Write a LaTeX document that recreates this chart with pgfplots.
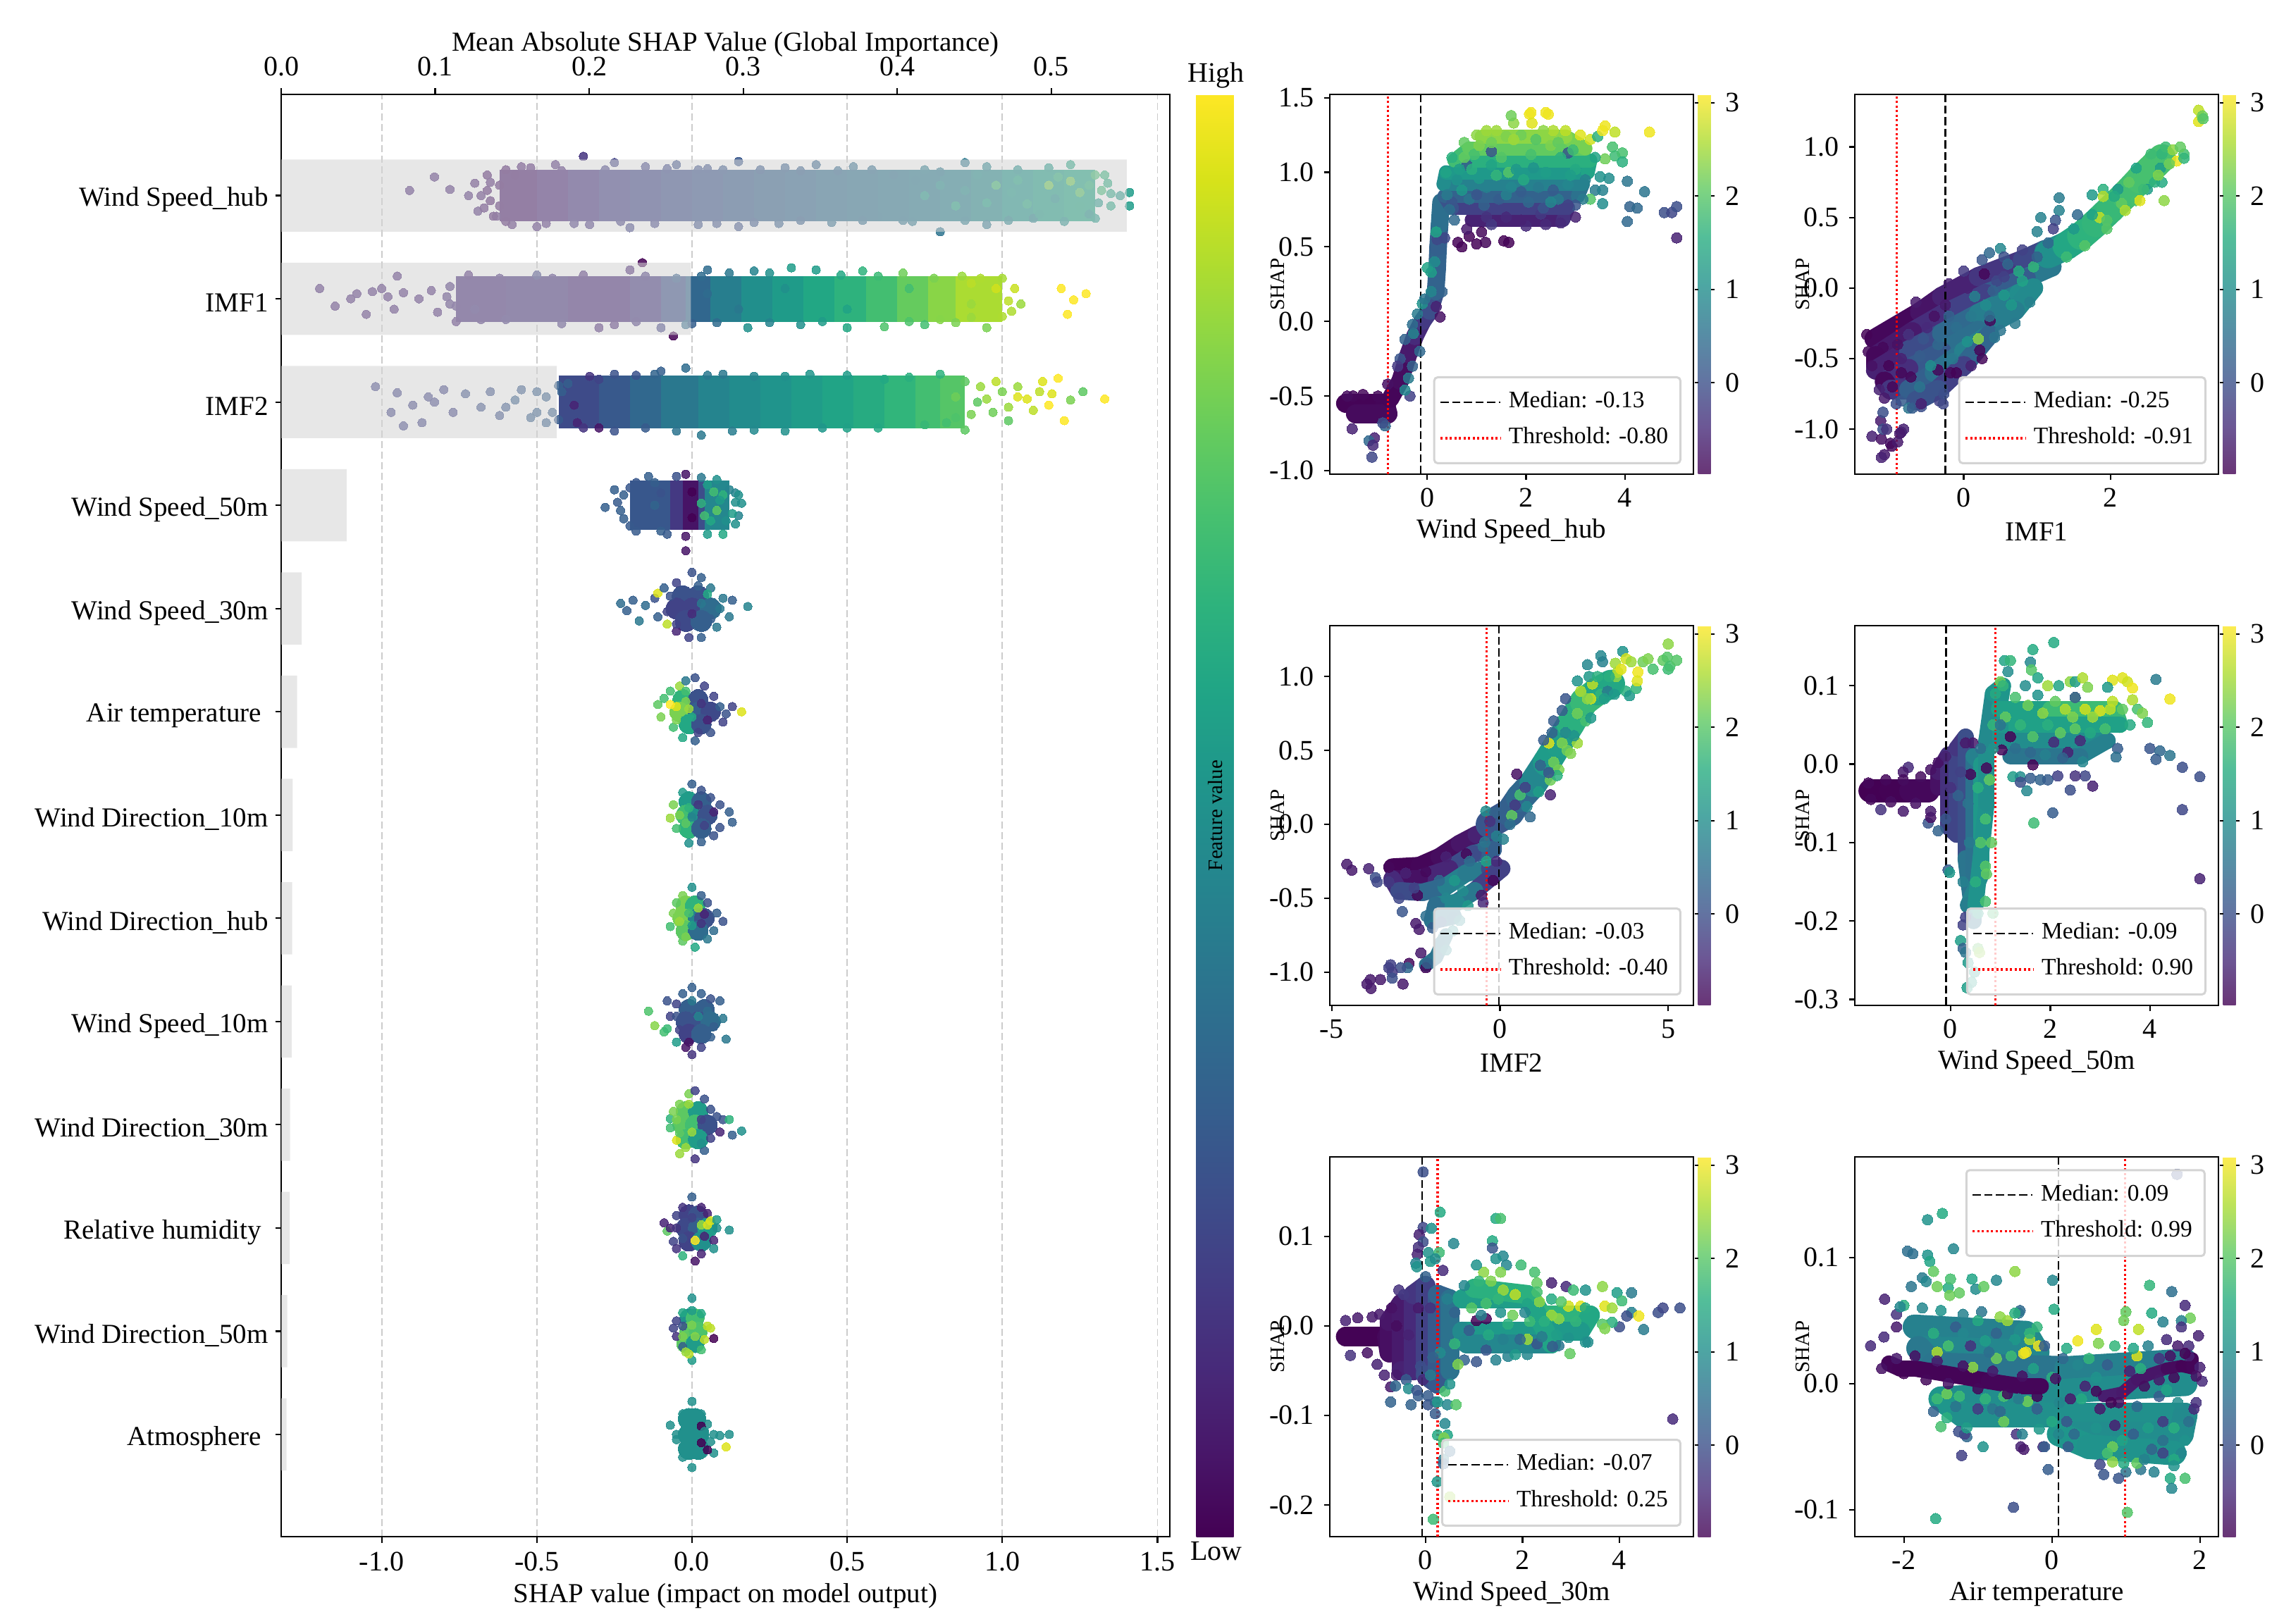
\documentclass[border=0pt]{standalone}
\usepackage{fontspec}
\setmainfont{Liberation Serif}
\usepackage{pgfplots}
\pgfplotsset{compat=1.18}
\newcommand{\fs}[1]{\fontsize{#1}{#1}\selectfont}
\pgfplotsset{
  colormap={viralpha}{rgb255=(105,52,118) rgb255=(108,87,149) rgb255=(98,117,162) rgb255=(86,142,165) rgb255=(77,167,163) rgb255=(83,190,153) rgb255=(126,212,129) rgb255=(189,227,89) rgb255=(253,236,81)},
  base/.style={scale only axis, /pgf/number format/assume math mode=true,
    tick align=outside, major tick length=1.7pt, tick style={black,line width=.45pt},
    axis line style={line width=.5pt}, ticklabel style={font=\fs{8}},
    label style={font=\fs{7.8}}},
  dots/.style={scatter, only marks, point meta=explicit, mark=*, mark size=#1,
    scatter/use mapped color={draw=mapped color,fill=mapped color},
    mark options={opacity=.85,line width=0pt}, forget plot},
  dots/.default=1.5pt,
  core/.style={dots=#1, mark options={opacity=1,line width=0pt}},
  band/.style={mesh, point meta=explicit, line width=#1, line cap=round, line join=round, forget plot},
  panel/.style={base, width=103.2pt, height=107.8pt, colormap/viridis,
    point meta min=-.98, point meta max=3.09, ytick pos=left, xtick pos=bottom,
    xticklabel style={yshift=1.2pt}, yticklabel style={xshift=.8pt},
    ylabel=SHAP, y label style={at={(axis description cs:-.143,.5)},anchor=center,font=\fs{5.8}},
    x label style={at={(axis description cs:.5,-.151)},anchor=center},
    legend cell align=left,
    legend image code/.code={\draw[##1] (0,0)--(14.5pt,0);\path (0,0)--(17pt,0);},
    legend style={font=\fs{6.7}, draw=black!17, line width=.6pt, rounded corners=1pt,
      fill=white, fill opacity=.8, text opacity=1, draw opacity=1,
      at={(.967,.026)}, anchor=south east, inner xsep=1.5pt, inner ysep=2pt,
      row sep=.1pt, /tikz/every even column/.append style={column sep=0pt}},
    colorbar, colorbar style={colormap name=viralpha, at={(parent axis.north east)},
      anchor=north west, xshift=-7.2pt, width=3.6pt, height=107.8pt,
      ytick={0,1,2,3}, axis line style={draw=none}, major tick length=1pt,
      tick style={black,line width=.4pt}, tick align=outside,
      yticklabel style={font=\fs{8},xshift=-.4pt},
      /pgf/number format/assume math mode=true}},
  medline/.style={black, dash pattern=on 2.3pt off 1pt, line width=.5pt},
  thrline/.style={red, dash pattern=on .6pt off .7pt, line width=.65pt}
}
\begin{document}
\begin{tikzpicture}
\path[use as bounding box] (0,0) rectangle (644.8pt,460.8pt);
% beeswarm on the SHAP axis
\begin{axis}[base, at={(79.8pt,24.6pt)}, anchor=south west, width=252.2pt, height=409.4pt,
  xmin=-1.324, xmax=1.54, ymin=-.99, ymax=12.98, colormap/viridis,
  point meta min=0, point meta max=1,
  xtick={-1,-.5,0,.5,1,1.5}, xticklabels={-1.0,-0.5,0.0,0.5,1.0,1.5},
  xmajorgrids, grid style={dash pattern=on 2pt off 1pt, black!20, line width=.35pt},
  xtick pos=bottom, ytick pos=left, ytick={0,...,12},
  yticklabels={Atmosphere\kern2pt,Wind Direction\_50m,Relative humidity\kern2pt,Wind Direction\_30m,Wind Speed\_10m,Wind Direction\_hub,Wind Direction\_10m,Air temperature\kern2pt,Wind Speed\_30m,Wind Speed\_50m,IMF2,IMF1,Wind Speed\_hub},
  yticklabel style={font=\fs{7.8},xshift=1.6pt,yshift=-1.2pt},
  xticklabel style={yshift=.8pt},
  xlabel={SHAP value (impact on model output)},
  x label style={at={(axis description cs:.5,-.041)},anchor=center},
  colorbar, colorbar style={at={(parent axis.north east)}, anchor=north west, xshift=-1pt,
    width=10.6pt, height=409.4pt, ytick=\empty, axis line style={draw=none},
    extra description/.code={
      \node[rotate=90,font=\fs{5.8}] at (rel axis cs:.5,.5) {Feature value};
      \node[font=\fs{8}] at (rel axis cs:.53,1.0132) {High};
      \node[font=\fs{8}] at (rel axis cs:.53,-.0103) {Low};}}]
% hub
\addplot[band=14.5pt, line cap=butt] coordinates {(-.62,12)[.05](-.5,12)[.08](-.4,12)[.12](-.3,12)[.16](-.2,12)[.2](-.1,12)[.22](0,12)[.25](.1,12)[.27](.2,12)[.3](.3,12)[.32](.4,12)[.34](.5,12)[.36](.6,12)[.38](.7,12)[.4](.8,12)[.42](.9,12)[.45](1,12)[.5](1.1,12)[.55](1.2,12)[.58](1.3,12)[.6]};
\addplot[dots=1.2pt] coordinates {(-.91,12.05)[.1](-.83,12.18)[.1](-.78,12.06)[.1](-.72,12.0)[.1](-.7,12.12)[.08](-.69,11.85)[.1](-.66,12.2)[.05](-.65,11.95)[.05](-.63,11.8)[.08](-.6,12.25)[.05](-.58,11.72)[.08](-.55,12.28)[.07](-.5,11.7)[.1](-.44,12.3)[.1](-.35,12.38)[.15](-.25,12.32)[.2](-.15,12.28)[.2](-.05,12.3)[.25](.05,12.26)[.25](.15,12.33)[.27](.3,12.27)[.3](.4,12.3)[.32](.52,12.28)[.35](.15,11.7)[.25](.02,11.72)[.25](-.2,11.69)[.2](-.38,11.73)[.15](.28,11.73)[.3](.45,11.74)[.35](.6,11.8)[.38](.72,12.15)[.4](.75,12.25)[.42](.88,12.32)[.4](.95,12.28)[.45](1.05,12.25)[.5](1.15,12.27)[.55](1.22,12.3)[.6](1.3,12.2)[.7](1.32,12.05)[.68](1.35,11.9)[.6](1.38,12.0)[.55](1.41,12.03)[.55](1.41,11.9)[.55](1.28,11.82)[.5](1.2,11.75)[.5](1.1,11.78)[.45](.95,11.72)[.4](.8,11.65)[.38](.71,11.75)[.4](.98,12.1)[.7](1.15,12.1)[.8](1.25,12.03)[.75](.85,11.9)[.6]
(-.62,12.1)[.05](-.62,11.9)[.06](-.6,11.75)[.06](-.57,12.2)[.06](-.52,12.27)[.07](-.47,11.73)[.1](-.42,12.24)[.1](-.33,11.72)[.15](-.28,12.25)[.18](-.23,11.75)[.18](-.12,11.73)[.2](-.08,12.26)[.22](.08,11.73)[.25](.02,12.25)[.25](.1,12.25)[.27](.2,11.74)[.27](.22,12.25)[.28](.35,11.76)[.3](.35,12.24)[.3](.47,12.24)[.33](.55,11.76)[.35](.58,12.25)[.35](.65,12.2)[.37](.68,11.76)[.38](.8,12.23)[.4](.88,11.76)[.42](.92,12.2)[.5](1.02,11.76)[.45](1.05,12.15)[.6](1.12,11.82)[.55](1.18,12.18)[.65](1.25,11.9)[.6](1.28,12.1)[.65](1.31,11.93)[.55](1.34,12.12)[.62](.75,12)[.55](.88,12.05)[.5](.95,11.93)[.58](1.03,12.03)[.55](1.08,11.92)[.62](1.17,11.97)[.5](1.22,12.14)[.8](.8,12.1)[.5](-.66,12.05)[.05](-.65,12.13)[.07](-.67,11.88)[.07](-.64,11.8)[.06](-.68,12.0)[.08](1.3,11.78)[.55](1.33,12.2)[.65](1.35,12.02)[.6]};
% IMF1
\addplot[band=13pt, line cap=butt] coordinates {(-.76,11)[.12](-.6,11)[.13](-.5,11)[.14](-.4,11)[.13](-.3,11)[.1](-.2,11)[.12](-.1,11)[.2](-.02,11)[.28](.06,11)[.38](.16,11)[.47](.26,11)[.52](.36,11)[.57](.46,11)[.62](.56,11)[.67](.66,11)[.73](.76,11)[.8](.85,11)[.85](1,11)[.9]};
\addplot[dots=1.2pt] coordinates {(-1.2,11.1)[.1](-1.15,10.93)[.1](-1.1,11.0)[.1](-1.08,11.05)[.1](-1.05,10.85)[.1](-1.03,11.07)[.1](-1,11.1)[.1](-.98,11.02)[.1](-.96,10.9)[.1](-.95,11.22)[.1](-.93,11.06)[.1](-.88,11.0)[.1](-.82,10.87)[.1](-.76,10.78)[.1](-.72,11.23)[.1](-.84,11.08)[.1](-.7,10.9)[.15](-.6,10.8)[.15](-.5,11.23)[.2](-.3,10.72)[.1](-.2,11.28)[.1](-.16,11.35)[.0](-.06,10.64)[.0](-.1,10.72)[.2](.05,11.28)[.35](.12,11.25)[.4](.2,11.27)[.45](.35,10.75)[.5](.32,11.3)[.55](.4,11.28)[.55](.5,10.72)[.6](.55,11.27)[.65](.62,10.73)[.72](.68,11.25)[.78](.75,10.75)[.7](.87,11.22)[.85](.95,10.72)[.8](1.0,11.2)[.87](1.02,10.98)[.9](1.06,10.95)[.85](1.0,10.83)[.88](.9,10.82)[.85](.8,10.8)[.82](.9,11.15)[.9](.98,11.1)[.93](1.19,11.1)[1](1.23,10.99)[1](1.27,11.05)[1](1.21,10.85)[1](.18,10.72)[.5](-.02,10.75)[.35]
(-.78,11.12)[.12](-.76,10.93)[.12](-.7,11.17)[.13](-.68,10.8)[.13](-.62,11.2)[.13](-.55,10.82)[.14](-.45,11.2)[.14](-.42,10.76)[.15](-.35,11.23)[.1](-.25,10.75)[.1](-.15,11.22)[.15](-.18,10.78)[.15](-.05,11.2)[.3](.0,10.76)[.3](.03,11.22)[.35](.08,10.77)[.35](.25,11.25)[.5](.25,10.77)[.45](.42,10.78)[.55](.48,11.23)[.6](.6,11.22)[.68](.7,10.78)[.72](.78,11.2)[.8](.85,10.77)[.8](.93,11.2)[.88](.05,11.05)[.35](.15,10.9)[.4](.3,11.1)[.5](.5,10.9)[.58](.7,11.1)[.7](.9,10.95)[.85](-.79,11.02)[.12](-.78,10.95)[.12](1.04,11.1)[.92](1.03,10.88)[.88]};
% IMF2
\addplot[band=15pt, line cap=butt] coordinates {(-.43,10)[.2](-.3,10)[.25](-.2,10)[.3](-.1,10)[.37](.02,10)[.43](.12,10)[.47](.22,10)[.5](.32,10)[.53](.42,10)[.57](.52,10)[.6](.62,10)[.63](.72,10)[.68](.8,10)[.72](.88,10)[.75]};
\addplot[dots=1.2pt] coordinates {(-1.02,10.15)[.2](-.97,9.9)[.2](-.93,9.77)[.2](-.95,10.09)[.2](-.9,9.97)[.2](-.87,9.8)[.2](-.85,10.05)[.2](-.83,10)[.2](-.8,10.12)[.2](-.77,9.9)[.2](-.73,10.08)[.25](-.68,9.95)[.25](-.65,10.1)[.25](-.62,9.87)[.25](-.57,10.02)[.3](-.52,9.85)[.3](-.5,10.1)[.3](-.47,9.8)[.3](-.43,10.16)[.3](-.38,9.97)[.1](-.33,10.25)[.15](-.3,9.75)[.05](-.18,10.26)[.25](-.1,10.3)[.3](-.02,10.33)[.35](.1,10.27)[.4](.03,9.68)[.4](.2,10.25)[.45](.3,9.72)[.5](.38,10.27)[.52](.5,10.26)[.55](.6,9.75)[.6](.62,10.22)[.6](.75,9.78)[.67](.8,10.27)[.65](.88,10.2)[.75](.95,10.03)[.85](.88,9.73)[.75](.93,10.15)[.85](1,10.1)[.8](1.02,9.95)[.85](1.05,10.15)[.85](1.08,10.03)[.95](1.1,9.92)[.9](1.12,10.1)[.9](1.13,10.2)[.95](1.15,9.97)[1](1.16,10.08)[.95](1.18,10.23)[1](1.2,9.82)[1](1.22,10.02)[.8](1.26,10.1)[.75](1.33,10.03)[1](1.02,9.82)[.75]
(-.6,9.95)[.27](-.55,10.12)[.28](-.5,9.9)[.3](-.47,10.05)[.3](-.45,9.9)[.3](-.42,10.1)[.3](-.43,9.83)[.28](-.4,10.18)[.3](-.37,9.8)[.1](-.35,9.75)[.15](-.3,10.22)[.2](-.25,9.72)[.25](-.25,10.27)[.25](-.15,9.75)[.28](-.12,10.27)[.32](-.05,9.72)[.38](.05,10.26)[.4](.13,9.72)[.42](.2,9.73)[.47](.3,10.25)[.5](.42,9.75)[.53](.5,9.75)[.57](.7,10.24)[.63](.82,9.8)[.7](.85,10.05)[.78](.9,9.88)[.8](.92,10)[.75](.97,9.9)[.78](.98,10.2)[.9](1.05,10.05)[.95](.85,9.85)[.72]};
% 50m
\addplot[band=14pt, line cap=butt] coordinates {(-.2,9)[.26](-.07,9)[.28](-.03,9)[.05](.02,9)[.05](.04,9)[.42](.12,9)[.5]};
\addplot[dots=1.2pt] coordinates {(-.28,8.98)[.3](-.25,9.15)[.3](-.23,8.95)[.3](-.22,9.1)[.3](-.18,9.22)[.27](-.16,8.82)[.27](-.12,9.22)[.3](-.1,8.75)[.3](-.05,9.28)[.25](-.02,9.3)[.05](-.02,8.7)[.05](0,9.13)[0](0,8.88)[0](.03,9.27)[.4](.05,8.72)[.55](.08,9.25)[.5](.1,8.72)[.6](.12,9.15)[.45](.14,9.03)[.5](.15,8.9)[.45](.16,9.02)[.5](.07,9.13)[.7](.08,8.95)[.75](.03,9.02)[.65](.11,8.85)[.5](-.02,8.56)[.05](-.2,8.8)[.28](-.14,9.28)[.3](-.08,8.72)[.28](.05,9.2)[.55](.1,9.1)[.65](.06,8.85)[.6](.09,9.05)[.55](.04,8.9)[.7](-.12,9)[.32](-.1,9.12)[.25](-.24,9.03)[.28](-.22,8.87)[.3](-.2,9.17)[.27](-.18,8.75)[.28](.14,9.12)[.45](.14,8.82)[.5](.13,8.92)[.55](.15,9.1)[.5]};
% 30m
\addplot[core=3pt] coordinates {(-.03,8.12)[.25](.02,8.12)[.25](-.05,8)[.2](.0,8)[.2](.06,8)[.35](-.02,7.88)[.22](.03,7.88)[.3]};
\addplot[dots=1.2pt] coordinates {(-.23,8.05)[.35](-.21,7.98)[.3](-.19,8.08)[.3](-.17,7.88)[.4](-.15,8.03)[.35](-.12,8.1)[.25](-.11,7.92)[.3](-.11,8.15)[.95](-.09,8.2)[.3](-.05,8.25)[.2](.0,8.35)[.25](.03,8.3)[.3](.06,8.2)[.4](.1,8.1)[.4](.13,8.08)[.3](.18,8.02)[.45](.12,7.92)[.4](.08,7.82)[.4](.03,7.72)[.3](-.01,7.72)[.2](-.05,7.78)[.1](-.08,7.85)[.9](.05,8.14)[.6](-.07,8.12)[.25](-.08,7.97)[.2](-.05,7.85)[.2](.02,8.22)[.3](.09,8)[.4](.06,7.9)[.3](.0,7.95)[.12](.03,8.05)[.4]};
% air temperature
\addplot[core=2.8pt] coordinates {(-.03,7.12)[.65](.02,7.12)[.25](-.04,7)[.8](.02,7)[.3](.06,7)[.22](-.01,6.88)[.6](.03,6.88)[.25]};
\addplot[dots=1.2pt] coordinates {(-.11,7.07)[.75](-.1,6.95)[.8](-.09,7.13)[.7](-.07,7.2)[.7](-.06,6.85)[.7](-.04,7.25)[.85](-.02,7.3)[.4](.01,7.33)[.25](.04,7.25)[.2](.07,7.15)[.2](.09,7.05)[.3](.11,6.98)[.25](.13,7.05)[.2](.16,7)[.95](.1,6.9)[.2](.06,6.8)[.25](.01,6.72)[.3](-.03,6.75)[.6](-.05,7.05)[.95](-.07,7.07)[1](-.05,6.92)[.8](-.02,7.1)[.8](.0,6.95)[.6](.03,7.08)[.15](.05,6.92)[.1](-.02,7.2)[.7](.02,6.8)[.2](-.01,7.03)[.85]};
% wind direction 10m
\addplot[core=2.8pt] coordinates {(-.01,6.13)[.55](.03,6.13)[.3](-.02,6)[.7](.02,6)[.5](.05,6)[.25](-.01,5.87)[.65](.03,5.87)[.3]};
\addplot[dots=1.2pt] coordinates {(-.06,6.1)[.8](-.07,5.97)[.85](-.05,5.87)[.7](-.03,6.22)[.55](0,6.3)[.3](.03,6.24)[.25](.06,6.17)[.25](.09,6.1)[.25](.12,6.03)[.3](.13,5.93)[.3](.09,5.88)[.25](.07,5.8)[.25](.03,5.74)[.3](-.01,5.73)[.5](.07,6.03)[.1](-.04,6)[.8](-.02,5.92)[.75](-.01,6.07)[.65](.02,6.1)[.15](.04,5.9)[.2](.0,5.98)[.45]};
% wind direction hub
\addplot[core=2.8pt] coordinates {(-.02,5.12)[.8](.01,5.12)[.65](-.03,5)[.8](.02,5)[.45](.04,5)[.25](-.02,4.88)[.75](.02,4.88)[.35]};
\addplot[dots=1.2pt] coordinates {(-.06,5.05)[.8](-.07,4.92)[.7](-.05,5.15)[.75](-.03,5.22)[.8](0,5.3)[.5](.03,5.22)[.3](.05,5.15)[.25](.08,5.05)[.3](.1,4.97)[.25](.07,4.88)[.35](.05,4.8)[.4](.01,4.72)[.6](-.03,4.78)[.75](.04,5.04)[.1](-.04,4.97)[.85](-.01,5.05)[.7](.02,5.1)[.85](.0,4.93)[.55](.03,4.95)[.15](-.02,4.82)[.8]};
% wind speed 10m
\addplot[core=2.8pt] coordinates {(-.01,4.12)[.3](.04,4.12)[.3](-.02,4)[.25](.02,4)[.25](.06,4)[.35](-.01,3.88)[.2](.03,3.88)[.3]};
\addplot[dots=1.2pt] coordinates {(-.14,4.1)[.72](-.12,3.96)[.82](-.09,3.9)[.7](-.08,3.93)[.68](-.07,4.05)[.2](-.08,4.2)[.25](-.05,4.17)[.2](-.03,4.27)[.3](0,4.33)[.3](.03,4.27)[.3](.06,4.22)[.25](.09,4.2)[.3](.1,4.03)[.4](.07,3.95)[.3](.11,3.83)[.4](.06,3.85)[.3](.03,3.75)[.2](0,3.68)[.15](-.02,3.75)[.05](-.05,3.8)[.55](-.05,4.05)[.25](-.04,3.92)[.2](.0,4.2)[.4](.02,4.05)[.45](-.01,3.8)[.05](.05,4.1)[.35]};
% wind direction 30m
\addplot[core=2.8pt] coordinates {(-.02,3.13)[.75](.02,3.13)[.55](-.03,3)[.75](.01,3)[.7](.05,3)[.25](-.02,2.86)[.7](.02,2.86)[.55]};
\addplot[dots=1.2pt] coordinates {(-.07,3.06)[.65](-.07,2.97)[.7](-.06,3.13)[.8](-.05,2.85)[.95](-.04,3.2)[.8](-.01,3.3)[.8](.01,3.33)[.2](.04,3.25)[.25](.06,3.15)[.25](.08,3.08)[.25](.1,3.05)[.25](.12,3.05)[.65](.13,2.9)[.3](.16,2.94)[.5](.09,2.93)[.1](.06,2.87)[.2](.04,2.75)[.3](.01,2.67)[.15](-.04,2.72)[.85](-.05,3.05)[.8](-.04,2.92)[.75](-.01,3.2)[.85](.03,3.05)[.2](.0,2.93)[.85](-.02,2.78)[.85](.03,2.82)[.5]};
% relative humidity
\addplot[core=2.8pt] coordinates {(-.01,2.13)[.2](.02,2.12)[.25](-.02,2)[.22](.02,2)[.3](.05,2)[.55](-.01,1.87)[.2](.03,1.87)[.5]};
\addplot[dots=1.2pt] coordinates {(-.09,2.05)[.1](-.08,1.97)[.75](-.07,2.0)[.1](-.06,1.87)[.2](-.05,2.12)[.2](-.05,1.8)[.15](-.03,2.2)[.15](0,2.3)[.3](.03,2.2)[.1](.05,2.14)[.1](.06,2.07)[.95](.08,2.08)[.55](.08,2)[.5](.12,1.98)[.5](.07,1.88)[.1](.07,1.8)[.5](.03,1.75)[.1](.01,1.68)[.05](-.03,1.73)[.65](.01,1.88)[1](-.05,2)[.15](-.03,1.9)[.25](.0,2.1)[.2](.03,2.03)[.85](.04,1.92)[.1](.05,2.03)[.95]};
% wind direction 50m
\addplot[core=2.6pt] coordinates {(-.01,1.13)[.5](.01,1.13)[.7](-.01,1)[.75](.02,1)[.72](-.02,.88)[.75](.01,.88)[.55]};
\addplot[dots=1.2pt] coordinates {(-.06,1.03)[.2](-.05,.95)[.15](-.05,1.1)[.2](-.03,1.18)[.6](0,1.32)[.5](.03,1.17)[.6](.05,1.05)[.9](.06,1.03)[.9](.07,.93)[.0](.04,.92)[.9](.03,.82)[.7](.0,.72)[.55](-.01,.78)[.9](-.03,.85)[.3](-.03,1.05)[.25](.0,1.2)[.55](-.03,.95)[.8](.01,.95)[.82](.0,1.06)[.8](-.02,.8)[.85]};
% atmosphere
\addplot[core=3pt] coordinates {(-.01,.15)[.5](.01,.15)[.5](-.01,0)[.5](.02,0)[.5](-.01,-.14)[.5](.02,-.14)[.5]};
\addplot[dots=1.2pt] coordinates {(-.07,.09)[.5](-.05,.0)[.5](-.05,-.05)[.5](-.03,.2)[.5](0,.32)[.5](.03,.2)[.5](.05,.1)[.5](.07,.0)[.5](.09,-.01)[.5](.12,.0)[.5](.11,-.12)[.95](.07,-.18)[.5](.05,-.15)[.0](.03,.08)[.0](.03,-.08)[.0](.02,-.2)[.5](0,-.32)[.5](.04,.03)[.5](-.03,-.22)[.5](.06,-.07)[.5]};
\end{axis}
% mean |SHAP| bars on the upper axis
\begin{axis}[base, at={(79.8pt,24.6pt)}, anchor=south west, width=252.2pt, height=409.4pt,
  xmin=0, xmax=.577, ymin=-.99, ymax=12.98, axis x line*=top, axis y line=none,
  xtick={0,.1,.2,.3,.4,.5}, xticklabels={0.0,0.1,0.2,0.3,0.4,0.5},
  xlabel={Mean Absolute SHAP Value (Global Importance)},
  x label style={at={(axis description cs:.5,1.0346)},anchor=center}]
\addplot[xbar, bar width=.7, bar shift=0pt, draw=none, fill=black!17, fill opacity=.55] coordinates {(.0035,0)(.004,1)(.0055,2)(.0058,3)(.0068,4)(.0072,5)(.0075,6)(.0103,7)(.0133,8)(.0425,9)(.179,10)(.266,11)(.549,12)};
\end{axis}
% Wind Speed_hub
\begin{axis}[panel, at={(377.4pt,326.2pt)}, anchor=south west, xmin=-1.973, xmax=5.39, ymin=-1.024, ymax=1.522,
  xtick={0,2,4}, ytick={-1,-.5,0,.5,1,1.5}, yticklabels={-1.0,-0.5,0.0,0.5,1.0,1.5}, xlabel={Wind Speed\_hub}]
\addplot[band=5.5pt] coordinates {(-1.65,-.55)[-.95](-.85,-.55)[-.95](-.8,-.62)[-.9](-1.45,-.62)[-.85]};
\addplot[band=5pt] coordinates {(-.75,-.52)[-.95](-.55,-.4)[-.9](-.38,-.22)[-.8](-.25,-.1)[-.6](-.1,0)[-.4](.05,.07)[-.2](.17,.2)[.2](.2,.35)[.4](.22,.5)[.2](.25,.65)[.3](.28,.8)[.7]};
\addplot[band=4pt] coordinates {(.9,.68)[-.6](2.75,.68)[-.6](2.85,.76)[-.2](.5,.76)[-.2](.35,.84)[.3](3.05,.84)[.3](3.15,.92)[.8](.33,.92)[.8](.38,1)[1.2](3.25,1)[1.2](3.3,1.08)[1.6](.55,1.08)[1.6](.85,1.16)[2.1](3.2,1.16)[2.1](2.8,1.24)[2.4](1.1,1.24)[2.4]};
\addplot[dots] coordinates {(-1.52,-.72)[-.6](-1.07,-.78)[-.6](-1.18,-.8)[.4](-1.1,-.83)[-.5](-1.12,-.91)[-.1](-.85,-.7)[.4](-.9,-.68)[0](-.35,-.5)[-.2](-.45,-.46)[.9](-.55,-.25)[.1](-.38,-.38)[.7](-.28,-.08)[.9](-.2,.05)[.7](-.1,.12)[1.1](0,.36)[1.4](.08,.33)[1.3](.15,.4)[1](.08,.2)[.9](.26,.03)[-.8](.2,.55)[-.1](.35,.56)[-.1](.18,.6)[1.4](.62,.53)[-.95](.7,.5)[-.95](.85,.57)[-.95](1,.52)[-.95](1.1,.6)[-.9](1.18,.53)[-.9](1.55,.54)[-.95](1.65,.53)[-.95](1.3,.65)[-.3](.8,.62)[-.7](1.6,.7)[-.5](2,.64)[-.5](2.4,.65)[-.5](2.7,.66)[-.5](1.9,.68)[-.6](2.3,.72)[-.3](1.2,.7)[-.4](.38,1.0)[1.4](.5,1.1)[1.6](.75,1.2)[2.1](1,1.25)[2.4](1.2,1.28)[2.5](1.4,1.28)[2.5](1.75,1.33)[2.4](1.7,1.38)[2.2](2.07,1.39)[3](2.1,1.4)[3](2.12,1.33)[2.9](2.4,1.4)[3](2.45,1.39)[3](2.55,1.28)[2.6](2.8,1.28)[2.7](3.1,1.25)[2.9](3.3,1.22)[2.8](3.45,1.24)[1.6](3.6,1.31)[3](3.55,1.28)[3](3.8,1.27)[2.7](4.5,1.27)[3](3.75,1.17)[1.9](3.8,1.11)[1.8](3.95,1.13)[1.9](3.95,1.07)[1.6](3.6,1.09)[2.2](3.4,1.1)[1.4](3.5,.97)[1.1](3.68,.96)[1](4.05,.94)[.6](4.4,.87)[.6](3.4,.88)[.7](3.55,.88)[.8](3.3,.82)[2](3.55,.79)[1](3.15,.82)[.7](3,.78)[.1](4.1,.77)[.3](4.25,.76)[.4](4.05,.67)[.4](4.8,.73)[0](4.95,.73)[-.1](5.05,.77)[0](5.05,.56)[-.6](3,.7)[-.6](2.85,.78)[-.2](1.3,1.14)[.1](2.85,1.13)[.1](.8,1.05)[.2](1.65,1.0)[2](1.9,.87)[.2]
(.6,.95)[1.1](.9,1.02)[1.6](1.2,.9)[.8](1.5,1.1)[2](1.8,1.02)[1.2](2.1,1.12)[1.9](2.4,1.0)[1.3](2.7,1.1)[1.6](3,1.02)[1.5](.5,.8)[.1](.85,.82)[.6](1.15,.78)[.3](1.45,.82)[.2](1.75,.75)[-.2](2.05,.8)[.4](2.35,.76)[.1](2.65,.82)[.7](1.3,1.2)[2.2](1.6,1.24)[2.3](1.9,1.25)[2.2](2.2,1.22)[2](2.5,1.18)[2.3](.95,1.12)[1.9](.65,1.02)[1.3](1.05,.96)[1.2](1.7,.9)[.9](2.25,.9)[.7](2.85,.92)[.9](3.2,.95)[.8](.4,.85)[.7](.55,.68)[.4](.45,.75)[.5](-1.5,-.5)[-.9](-1.62,-.5)[-.85](-1.3,-.49)[-.9](-1,-.5)[-.9](-.8,-.42)[-.8](-.6,-.3)[-.3](-.45,-.12)[.3](-.3,-.02)[.5](-.15,-.2)[.4](-.3,-.3)[.3](-.05,.15)[.6](.18,.1)[-.6](.3,.2)[.3]
(.75,1.1)[2.1](1.05,1.18)[2.3](1.75,1.22)[2.5](2.35,1.28)[2.4](2.65,1.2)[2.1](2.95,1.15)[1.8](1.3,1.05)[1.4](1.95,.95)[1.5](2.55,.88)[.2](1.4,.98)[1.7](2.15,1.03)[1.1](2.9,.98)[1.3](.7,.88)[1.2](1,.85)[.1](1.6,.85)[.8](2.5,.8)[.9]};
\addplot[medline] coordinates {(-.13,-1.024)(-.13,1.522)};
\addlegendentry{Median: -0.13}
\addplot[thrline] coordinates {(-.8,-1.024)(-.8,1.522)};
\addlegendentry{Threshold: -0.80}
\end{axis}
% IMF1
\begin{axis}[panel, at={(526.4pt,326.2pt)}, anchor=south west, xmin=-1.483, xmax=3.47, ymin=-1.319, ymax=1.372,
  xtick={0,2}, ytick={-1,-.5,0,.5,1}, yticklabels={-1.0,-0.5,0.0,0.5,1.0}, xlabel={IMF1}]
\addplot[band=5.5pt] coordinates {(-1.22,-.36)[-.95](-.6,-.17)[-.85](-.3,-.06)[-.7](.2,.08)[-.5](.8,.2)[-.2](1.1,.27)[.0](1.2,.15)[.9](.85,.07)[.4](.3,-.04)[0](-.3,-.19)[-.4](-.7,-.31)[-.5](-1.2,-.48)[-.9](-1.2,-.58)[-.9](-.75,-.44)[-.3](-.3,-.32)[.2](.2,-.18)[.6](.75,-.04)[.9](.95,.0)[1.1](.7,-.16)[.8](.2,-.3)[.7](-.3,-.45)[.3](-.75,-.57)[.0](-1.08,-.66)[-.9](-1,-.72)[-.9](-.75,-.72)[.2](-.4,-.6)[.3](0,-.45)[.8](.35,-.33)[.8](.0,-.55)[-.1](-.35,-.72)[-.3](-.65,-.8)[.4]};
\addplot[band=8pt] coordinates {(1.15,.24)[.8](1.4,.3)[1.3](1.6,.37)[1.6](1.8,.46)[1.7](2,.56)[1.7](2.2,.66)[1.8](2.4,.77)[1.9](2.6,.87)[1.9](2.7,.92)[1.9]};
\addplot[dots] coordinates {(-1.32,-.33)[-.95](-1.3,-.45)[-.9](-1.25,-.55)[-.8](-1.15,-.72)[-.6](-1.08,-.78)[-.7](-.97,-.7)[-.9](-.85,-.8)[.2](-.92,-.82)[0](-.75,-.85)[.6](-.7,-.85)[.2](-.72,-.63)[-.9](-.58,-.84)[0](-.58,-.82)[-.6](-.33,-.8)[-.2](-.28,-.82)[-.1](-.27,-.75)[0](-1.25,-1.05)[-.6](-1.13,-.94)[-.7](-1.1,-.88)[0](-1.12,-1.07)[-.8](-1.1,-1.0)[.0](-1.05,-1.0)[-.4](-1.0,-1.1)[-.8](-.98,-1.12)[-.9](-.9,-1.09)[-.7](-.85,-1.02)[-.5](-.82,-1.0)[-.6](-1.08,-1.18)[-.7](-1.12,-1.2)[-.6](-.87,-1.03)[-.7](-.35,-.58)[-.9](-.18,-.6)[-.9](-.1,-.6)[-.95](.1,-.55)[-.6](.22,-.44)[-.9](.25,-.5)[-.9](.2,-.36)[2.4](.42,-.35)[.6](.36,-.23)[-.9](.5,-.3)[.6](.7,-.25)[.7](.25,.2)[.1](.35,.25)[.4](.5,.28)[.9](.28,.1)[-.9](.55,.22)[0](.8,.27)[-.2](1,.4)[.8](1.05,.5)[.8](1.3,.55)[.8](1.3,.64)[.7](1.25,.48)[.1](1.22,.42)[-.2](1.55,.52)[.4](1.75,.66)[1.2](1.9,.7)[1.6](2.1,.7)[1.2](1.85,.5)[2.7](1.95,.42)[2](2.15,.6)[2.1](2.35,.62)[1.9](2.4,.62)[2.9](2.5,.7)[1.3](2.6,.75)[1.6](2.7,.75)[1.5](2.7,.95)[1.7](2.75,1.0)[1.8](2.85,.98)[2.4](3,.95)[1.9](2.9,.9)[3](3.0,.92)[1.7](2.73,.62)[2.4](2.68,.85)[1.3](3.2,1.26)[2.7](3.2,1.18)[2.9](3.25,1.22)[2.2](3.26,1.2)[2](2.95,1.0)[2.1](1.9,.65)[2.6](2.2,.55)[2.6]
(-1.1,-.42)[-.9](-.9,-.4)[-.8](-.75,-.33)[-.4](-.5,-.28)[-.5](-.25,-.12)[-.7](-.6,-.48)[.2](-.35,-.4)[.4](-.1,-.28)[.5](.1,-.2)[.7](.3,-.12)[1](.55,-.05)[1.2](.8,.05)[1.4](.95,.15)[1.7](.45,.05)[-.1](.05,.0)[-.6](-.45,-.55)[1](-.6,-.7)[.6](-.15,-.5)[.7](.05,-.38)[1.1](.35,-.2)[.5](.65,-.12)[1.2](.9,-.1)[.8](1.0,.22)[.3](1.15,.32)[.4](1.4,.22)[1.8](1.5,.42)[1.2](1.65,.3)[2](1.75,.52)[1.4](1.95,.48)[2](2.05,.65)[1.5](2.25,.75)[2.1](2.35,.85)[1.4](2.45,.7)[1.8](2.55,.95)[1.8](2.65,.8)[2.3](2.8,.88)[2.2](-1.02,-.55)[-.95](-.85,-.6)[-.9](-.85,-.5)[-.6](-.4,-.2)[-.8]
(-.65,-.1)[-.7](-.2,.03)[-.6](.0,.12)[-.3](.6,.17)[.4](.4,-.02)[.3](-.55,-.36)[.1](-.2,-.2)[.3](.15,-.06)[.8](.55,.08)[-.2](.75,.12)[1.5]};
\addplot[medline] coordinates {(-.25,-1.319)(-.25,1.372)};
\addlegendentry{Median: -0.25}
\addplot[thrline] coordinates {(-.91,-1.319)(-.91,1.372)};
\addlegendentry{Threshold: -0.91}
\end{axis}
% IMF2
\begin{axis}[panel, at={(377.4pt,175.4pt)}, anchor=south west, xmin=-5.055, xmax=5.75, ymin=-1.225, ymax=1.344,
  xtick={-5,0,5}, ytick={-1,-.5,0,.5,1}, yticklabels={-1.0,-0.5,0.0,0.5,1.0}, xlabel={IMF2}]
\addplot[band=5pt] coordinates {(-3.2,-.29)[-.95](-2.4,-.28)[-.95](-1.8,-.22)[-.9](-1.2,-.13)[-.8](-.7,-.07)[-.7](-.2,-.03)[-.5](-.2,-.17)[.3](-.8,-.2)[.2](-1.5,-.3)[-.3](-2.4,-.37)[-.8](-3.2,-.37)[-.8](-3,-.45)[-.2](-2.3,-.46)[.1](-1.6,-.42)[.7](-1,-.33)[.9](-.3,-.3)[.5](.05,-.3)[-.6](-.75,-.45)[.2](-1.3,-.53)[1.1](-1.9,-.55)[.7](-2,-.65)[.3](-1.4,-.62)[.9]};
\addplot[band=4pt] coordinates {(-1.6,-.75)[.7](-1.9,-.9)[.6](-2.2,-.95)[.5]};
\addplot[band=8pt] coordinates {(-.3,.0)[-.1](.3,.08)[.3](.6,.18)[.2](1,.28)[.6](1.4,.42)[1.2](1.75,.55)[1.3](2.1,.68)[1.3](2.5,.83)[1.9](2.9,.9)[1.6](3.3,.95)[1.3]};
\addplot[dots] coordinates {(-4.55,-.27)[-.7](-4.4,-.31)[-.7](-3.9,-.3)[-.6](-3.7,-.36)[0](-3.65,-.39)[-.1](-3.3,-.29)[-.9](-3.3,-.39)[-.3](-3,-.5)[-.1](-2.9,-.59)[.1](-2.45,-.48)[-.9](-2.5,-.67)[-.7](-2.4,-.71)[-.7](-2.2,-.62)[.5](-2,-.7)[.2](-1.75,-.66)[.2](-1.4,-.63)[.5](-1.2,-.65)[.9](-.55,-.48)[-.7](-.5,-.53)[-.5](-.2,-.38)[-.9](-1.95,-.9)[.6](-2.35,-.87)[-.7](-2.2,-.97)[-.9](-2.15,-.94)[.3](-2.7,-.94)[-.9](-2.75,-.97)[.4](-2.95,-.97)[0](-3.25,-.95)[-.2](-3.2,-1.0)[-.3](-3.3,-.97)[-.2](-3.2,-1.04)[0](-3.55,-1.05)[-.7](-3.85,-1.05)[-.7](-3.95,-1.08)[-.7](-3.83,-1.11)[-.7](-2.88,-1.08)[-.7](-1.8,-.8)[.6](-1.6,-.85)[.9](-1.4,-.72)[1](-.42,.09)[1](-.15,.08)[.3](.35,.06)[2.1](.5,.34)[-.8](.6,.2)[1.9](.9,.05)[.4](1.5,.2)[-.6](1.5,.3)[2.2](1.45,.55)[2.9](1.3,.57)[.2](1.55,.62)[.3](1.6,.7)[.2](1.95,.85)[.1](1.85,.77)[.2](2.0,.5)[2.2](2.1,.48)[2.3](2.3,.55)[2.5](1.75,.37)[2.3](1.7,.33)[1.6](2.4,.9)[2.6](2.7,.85)[2.8](2.75,.95)[2.7](2.3,.97)[1.1](2.65,1.0)[1.2](2.6,1.08)[.9](3.0,1.14)[.9](3.05,1.1)[.8](3,.88)[1.7](3.2,.9)[.7](3.45,1.0)[2.4](3.5,1.03)[2.6](3.43,1.09)[2.5](3.6,1.05)[2.9](3.65,1.17)[1.1](3.75,1.12)[2.8](3.9,1.1)[2.5](3.75,.9)[1.6](3.85,.87)[1.2](4.05,.92)[1.7](4.1,1.03)[3](4.08,.97)[2.9](4.25,1.1)[2.2](4.4,1.12)[2.3](4.55,1.05)[1.9](4.85,1.11)[2.1](4.97,1.13)[2](5,1.05)[1.8](5.05,1.07)[1.9](5.25,1.11)[2](5,1.22)[2.4]
(-2.8,-.33)[-.6](-2.2,-.32)[-.9](-1.6,-.22)[-.6](-1,-.2)[-.9](-.5,-.15)[.5](-.4,-.25)[1.4](-.9,-.25)[.5](-1.35,-.38)[1.2](-1.8,-.38)[.4](-2.55,-.43)[-.2](-1.1,-.45)[1](-.95,-.55)[1.2](-1.6,-.5)[.9](.1,-.1)[.8](.3,.0)[.5](.45,.13)[-.3](.8,.12)[.9](.75,.25)[-.2](1.15,.22)[1.3](1.2,.4)[.3](1.6,.42)[2.2](1.45,.35)[.1](1.85,.55)[2.3](1.95,.62)[.9](2.2,.6)[1.1](2.3,.75)[2.2](2.55,.7)[1.9](2.6,.85)[2.4](2.7,.72)[1.2](3.1,.85)[1.3](3.25,1.0)[1.6](2.9,1.0)[1.6](3.4,.88)[1.2](-.1,-.25)[-.5](-.3,.02)[-.4](-.45,-.12)[.6](-.1,-.08)[.8]};
\addplot[medline] coordinates {(-.03,-1.225)(-.03,1.344)};
\addlegendentry{Median: -0.03}
\addplot[thrline] coordinates {(-.4,-1.225)(-.4,1.344)};
\addlegendentry{Threshold: -0.40}
\end{axis}
% Wind Speed_50m
\begin{axis}[panel, at={(526.4pt,175.4pt)}, anchor=south west, xmin=-1.922, xmax=5.375, ymin=-.3076, ymax=.1765,
  xtick={0,2,4}, ytick={-.3,-.2,-.1,0,.1}, yticklabels={-0.3,-0.2,-0.1,0.0,0.1}, xlabel={Wind Speed\_50m}]
\addplot[band=6.5pt] coordinates {(-1.62,-.034)[-.98](-1.2,-.034)[-.98](-.8,-.034)[-.95](-.45,-.034)[-.85]};
\addplot[band=4.6pt] coordinates {(-.25,-.03)[-.8](-.25,-.01)[-.8](-.05,.012)[-.5](-.05,-.08)[-.3](.12,-.09)[.0](.12,.02)[-.3](.3,.035)[-.4](.3,-.12)[.4](.46,-.2)[.8](.46,.01)[.3](.62,0)[1.3](.62,-.14)[1.1](.35,-.18)[.6](.5,-.18)[.9](.72,-.05)[1.3](.72,.03)[.8](.85,.09)[1.1](1.05,.1)[1.1](.97,.07)[1.2](2,.07)[1.5](3.3,.07)[2.1](3.4,.05)[1.4](1,.05)[1.3](1,.03)[1](3.15,.03)[1](2.6,.01)[.6](1.2,.01)[.6]};
\addplot[dots] coordinates {(-1.4,-.058)[-.4](-.95,-.06)[-.7](-.85,-.004)[-.5](-.95,-.01)[-.7](-.4,-.007)[-.8](-.25,.002)[-.8](-.1,.01)[-.6](.3,.027)[-.7](.45,.027)[-.7](-.45,-.075)[.1](-.25,-.085)[.3](-.4,-.068)[-.8](-.1,-.07)[.1](-.05,-.135)[.2](-.02,-.138)[1.2](.4,-.013)[-.9](.72,-.005)[-.9](.82,-.1)[2.1](.7,-.13)[2](.72,-.14)[2.1](.7,-.175)[1.9](.85,-.19)[1.9](.55,-.19)[1.4](.3,-.195)[-.2](.25,-.205)[-.2](.2,-.225)[1.3](.25,-.235)[.3](.3,-.24)[.6](.55,-.235)[2.1](.58,-.24)[2.4](.35,-.253)[1.2](.48,-.265)[1.2](.42,-.278)[1.3](.33,-.285)[1.3](1,.105)[2.2](1.08,.132)[1.4](1.2,.132)[1.7](1.15,.118)[1](1.65,.146)[1.5](2.07,.155)[1.5](1.6,.13)[.9](1.62,.12)[2](1.75,.11)[1.4](1.5,.1)[1](1.95,.1)[2.5](2.17,.1)[1.4](2.4,.105)[2.4](2.5,.105)[1.3](2.65,.11)[2.6](2.75,.098)[2.3](2.5,.085)[2.2](2.5,.085)[.2](2.7,.07)[2.8](3.25,.107)[2.9](3.45,.11)[2.9](3.55,.105)[2.8](3.65,.097)[3](4.4,.083)[3](4.12,.108)[.7](3.15,.098)[1.2](3.25,.08)[2.7](3.65,.082)[2.6](3,.068)[2.9](3.45,.07)[2.1](3.2,.07)[2.7](3.75,.07)[1.9](3.85,.065)[2.3](3.95,.053)[1.7](3.6,.05)[1.5](4,.02)[.1](3.35,.02)[.2](4.2,.017)[.4](4.4,.011)[.6](4.12,.006)[.2](3.32,.009)[.5](4.65,-.004)[0](5,-.016)[0](4.65,-.058)[-.1](5,-.146)[-.6](2.85,-.028)[-.6](2.4,-.033)[0](2.05,-.062)[.2](1.67,-.075)[1.8](1.53,-.034)[.9](1.25,-.016)[1.3](1.4,-.016)[1](1.4,-.023)[0](1.6,-.018)[.2](1.8,-.02)[.3](1.95,-.02)[.2](2.7,-.015)[-.1](2.5,-.015)[-.4](2.15,-.015)[-.2](1.65,-.001)[-.95](1.2,.035)[-.95](1.03,.018)[-.9](2.07,.028)[-.5](2.6,.03)[-.5](2.35,.015)[-.6](1.1,.06)[2.1](.9,.09)[1.5](1.05,.1)[1.7]
(1.3,.085)[1.9](1.55,.075)[2.2](1.75,.088)[1.1](1.85,.065)[2.4](2.1,.08)[2.1](2.3,.07)[2.6](2.45,.06)[2.3](2.85,.06)[2.5](1.4,.05)[1.7](1.65,.035)[2](1.95,.05)[1.6](2.2,.04)[2.1](2.5,.045)[2.1](2.8,.04)[1.5](3.1,.045)[1.9](1.3,.02)[.5](1.6,.015)[.4](1.9,.012)[.8](2.25,.008)[.3](2.65,.003)[.9](.85,.02)[1.1](.85,.05)[1.7](1,.05)[.6](.55,-.03)[1.6](.7,-.07)[1.9](.6,-.1)[2](.35,-.05)[.6](.15,-.04)[.3](.5,-.15)[1.6](.38,-.1)[.7](.25,-.15)[.8](.0,-.03)[-.4](.2,-.01)[-.2](.6,.02)[.5](.78,-.02)[2.1]
(-1.65,-.024)[-.9](-1.3,-.02)[-.9](-.95,-.02)[-.85](-.6,-.016)[-.85](-1.6,-.045)[-.9](-1.2,-.048)[-.85](-.7,-.05)[-.8](-.4,-.06)[-.7]};
\addplot[medline] coordinates {(-.09,-.3076)(-.09,.1765)};
\addlegendentry{Median: -0.09}
\addplot[thrline] coordinates {(.9,-.3076)(.9,.1765)};
\addlegendentry{Threshold: 0.90}
\end{axis}
% Wind Speed_30m
\begin{axis}[panel, at={(377.4pt,24.6pt)}, anchor=south west, xmin=-1.975, xmax=5.527, ymin=-.2354, ymax=.1887,
  xtick={0,2,4}, ytick={-.2,-.1,0,.1}, yticklabels={-0.2,-0.1,0.0,0.1}, xlabel={Wind Speed\_30m}]
\addplot[band=5.5pt] coordinates {(-1.65,-.012)[-.98](-.8,-.012)[-.95](-.75,-.03)[-.85](-.75,.005)[-.8](-.5,.025)[-.7](-.5,-.05)[-.7](-.25,-.05)[-.5](-.25,.035)[-.5](0,.045)[-.2](0,-.055)[-.2](.25,-.065)[.2](.25,.035)[.1](.5,.03)[.5](.5,-.05)[.6]};
\addplot[band=5.4pt] coordinates {(.75,.03)[1.2](2.2,.03)[1.4](2.4,.012)[1.7](3.4,.012)[1.6](3.2,-.006)[1.3](.75,-.006)[1.1](.85,-.02)[.8](2.6,-.02)[1](2.1,.035)[1.8](1,.042)[1.4]};
\addplot[dots] coordinates {(-1.65,.006)[-.6](-1.4,.009)[-.7](-1.1,.01)[-.7](-.95,.013)[-.7](-1.55,-.033)[-.4](-1.2,-.03)[-.8](-1,-.043)[-.6](-.85,-.055)[-.6](-.72,-.068)[-.7](-.6,-.055)[-.7](-.62,-.067)[.4](-.72,-.085)[.3](-.55,.04)[-.4](-.45,.035)[-.3](-.7,.02)[-.8](-.4,-.06)[.2](-.35,-.07)[1](-.3,-.088)[.3](-.15,-.078)[.2](-.18,-.072)[.1](-.05,-.06)[-.5](.05,-.078)[.2](.05,-.088)[.1](.2,-.085)[.3](.25,-.085)[1.2](.45,-.088)[.9](.63,-.088)[2](.4,-.073)[1.9](.5,-.065)[1.1](.2,-.098)[.2](.4,-.109)[.9](.45,-.122)[1.4](.25,-.122)[1.5](.38,-.125)[2.3](.37,-.131)[1.8](.5,-.14)[.4](.37,-.149)[.7](.37,-.154)[.3](.24,-.174)[1.2](.5,-.191)[2.5](.16,-.216)[1.8](-.05,.172)[0](.3,.127)[1.5](-.05,.11)[-.1](.12,.109)[1.1](-.13,.102)[-.6](-.05,.094)[0](.58,.092)[.9](-.15,.088)[-.4](.06,.082)[1.1](.28,.082)[1.8](-.17,.08)[-.6](.1,.072)[1.2](.2,.075)[1](-.2,.07)[.8](-.18,.066)[1.1](.0,.055)[.3](.36,.062)[-.5](1.45,.12)[1.5](1.55,.12)[1.9](1.38,.095)[1.5](1.38,.087)[.1](1.6,.078)[.9](1.67,.068)[.9](1.45,.075)[1.1](1.97,.068)[1.8](2.25,.06)[1.9](2.3,.048)[2.1](1.2,.06)[2.4](1.05,.068)[1.1](1.55,.06)[2.3](2.6,.048)[-.6](2.9,.044)[-.5](3.05,.04)[1.8](3.65,.044)[2.4](3.95,.037)[1.3](4.25,.037)[.7](4.05,.028)[1.8](3.7,.022)[2.9](3.85,.02)[2.5](3.3,.04)[1.1](2.95,.022)[2.8](3.2,.022)[2.9](2.6,.012)[2.5](4.25,.015)[.8](4.4,.011)[3](4.15,.011)[0](4.8,.015)[0](4.9,.02)[-.1](5.25,.02)[0](4,-.001)[0](4.5,-.004)[.7](3.85,.004)[1.6](3.65,.002)[2](3.7,-.003)[2.3](5.1,-.104)[-.5](2.98,-.031)[2.1](3.3,-.018)[1.1](3.35,-.018)[1](2.95,-.013)[1.1](2.75,-.022)[.6](2.62,-.023)[.2](2.1,-.032)[.9](1.45,-.038)[.8](1.7,-.034)[.8](1.85,-.032)[1.2](1.25,-.027)[.1](1.05,-.04)[.1](.8,-.038)[.3](.67,-.043)[2.3](1.05,.006)[-.95](1.25,.008)[-.95](2.1,-.015)[2.5](2.3,-.02)[.1]
(.8,.045)[.9](1.1,.05)[1.7](1.35,.05)[2.3](1.6,.04)[2.5](1.85,.035)[2.7](2.1,.025)[1.4](2.35,.027)[2.4](2.6,.03)[1.5](2.8,.027)[2](.95,.02)[2](1.25,.025)[1.9](1.55,.015)[1.1](1.8,.012)[2.2](2.15,.005)[1.8](2.45,.005)[1.6](2.75,.008)[2.4](3.1,.005)[1.7](.9,-.005)[.2](1.3,-.01)[1.5](1.6,-.015)[.8](1.95,-.015)[.4](2.4,-.012)[.7](.6,.015)[.3](.6,-.02)[1.7](.3,-.03)[1](.45,.03)[.8](.1,.02)[-.4](.15,-.035)[.3](-.15,.02)[-.7](-.35,-.01)[-.6](-.6,.0)[-.85](-.1,-.045)[.0](.1,-.055)[.7](1.5,.03)[1.7](2.05,.015)[.9](2.9,-.002)[1.2](2.3,.038)[1.9](1.15,.012)[.8](1.7,.002)[1.6](3.3,.02)[1.5](2.7,-.01)[1.3]};
\addplot[medline] coordinates {(-.07,-.2354)(-.07,.1887)};
\addlegendentry{Median: -0.07}
\addplot[thrline] coordinates {(.25,-.2354)(.25,.1887)};
\addlegendentry{Threshold: 0.25}
\end{axis}
% Air temperature
\begin{axis}[panel, at={(526.4pt,24.6pt)}, anchor=south west, xmin=-2.663, xmax=2.251, ymin=-.1213, ymax=.1798,
  xtick={-2,0,2}, ytick={-.1,0,.1}, yticklabels={-0.1,0.0,0.1}, xlabel={Air temperature},
  legend style={at={(.965,.968)}, anchor=north east}]
\addplot[band=7pt] coordinates {(-1.85,.045)[.7](-.35,.04)[.9](-.2,.025)[1](-1.8,.028)[.8](-1.6,.015)[.5](.2,.012)[.7](1.8,.018)[.9](1.8,.0)[.8](-1.5,-.012)[1.2](-1.2,-.025)[1.1](1.8,-.025)[1](1.75,-.04)[.9](.1,-.04)[1.1](.5,-.05)[1.2](1.65,-.055)[1]};
\addplot[band=4.6pt] coordinates {(-2.2,.016)[-.9](-2.05,.012)[-.95](-1.85,.012)[-.95](-1.65,.01)[-.95](-1.45,.008)[-.95](-1.25,.006)[-.95](-1.05,.004)[-.95](-.85,.002)[-.95](-.65,0)[-.9](-.4,-.002)[-.95](-.15,-.002)[-.9]};
\addplot[band=3.4pt] coordinates {(.7,-.01)[-.7](.95,-.007)[-.6](1.15,.003)[-.8](1.35,.008)[-.7](1.55,.012)[-.8](1.75,.014)[-.95](1.9,.012)[-.95](1.9,.02)[-.9]};
\addplot[dots] coordinates {(-2.45,.03)[-.5](-2.27,.037)[-.5](-2.26,.067)[-.6](-2.1,.055)[-.4](-2.1,.045)[-.7](-2,.062)[1.6](-2.05,.061)[.9](-1.95,.105)[.5](-1.88,.103)[.5](-1.9,.077)[.6](-1.75,.084)[.7](-1.7,.081)[.9](-1.68,.13)[1.1](-1.48,.135)[1.5](-1.68,.102)[1.1](-1.65,.097)[1.4](-1.6,.089)[2.1](-1.55,.077)[2.2](-1.4,.076)[1.5](-1.37,.083)[1.9](-1.38,.07)[2.2](-1.25,.072)[2.1](-1.33,.107)[.9](-1.08,.083)[1.4](-1.03,.075)[1](-.92,.077)[2.1](-.75,.082)[.9](-.5,.089)[2.4](-.43,.058)[.4](-.45,.056)[.6](-.2,.045)[1.7](-.3,.035)[2.6](-.35,.025)[3](-.18,.03)[3](.01,.082)[.9](.03,.059)[1.5](.6,.043)[2.9](.63,.032)[2.3](.35,.034)[3](1,.057)[2.1](1.17,.043)[2.7](1.32,.078)[1.7](1.35,.056)[1.5](1.5,.049)[.8](1.62,.073)[.5](1.8,.062)[-.5](1.87,.052)[2.2](1.75,.05)[.8](1.75,.045)[-.4](1.98,.038)[-.6](.97,.05)[2.2](1.15,.022)[2.9](1.85,.03)[-.5](2,.013)[-.6](2.03,.002)[-.5](1.95,-.015)[-.4](1.92,-.02)[-.5](1.85,-.03)[.5](1.8,-.045)[1.1](1.75,-.055)[.9](1.65,-.06)[1.5](1.65,-.065)[1.1](1.6,-.075)[1.5](1.62,-.083)[.9](1.8,-.075)[1.9](1.38,-.07)[.8](1.2,-.068)[.6](1.0,-.07)[.6](.9,-.075)[.1](.7,-.072)[.1](.65,-.064)[-.1](.82,-.062)[2.4](1.15,-.063)[2.1](.97,-.063)[1.5](.82,-.05)[2.2](-.05,-.068)[.2](-.52,-.098)[0](1.02,-.102)[2](-1.57,-.107)[1.5](-1.22,-.057)[-.2](-.93,-.05)[1.1](-.42,-.05)[-.6](-.38,-.052)[-.7](-.12,-.05)[-.4](-.1,-.05)[.2](.22,-.05)[.2](.09,-.04)[.9](-.48,-.04)[-.4](-.4,-.04)[.8](-1.15,-.042)[.4](-1.18,-.04)[-.2](-1.26,-.038)[0](-1.15,-.035)[1.3](-1.5,-.034)[1.9](-1.42,-.027)[1.6](-.65,-.03)[2.2](-1.6,-.022)[.3](-1.55,-.012)[1.8](-1.42,-.008)[2.2](-1.25,-.01)[1.8](-.65,-.01)[1.9](-.33,-.014)[2.2](-.17,-.036)[1.2](-.8,-.02)[.6](.0,.005)[1.6](-.75,.02)[2.2](-1.07,.013)[2.4](-.38,.024)[3](-.6,.05)[2.5](-.3,.04)[1.7](-.7,.053)[2.4](-1.55,.025)[2.6](-1.9,.05)[.8](-1.75,.06)[.9](-1.5,.058)[1.1](-1.2,.055)[.8](-.95,.057)[.6](-.5,.056)[1.6]
(-1.6,.04)[1.6](-1.3,.045)[.2](-1,.05)[1.5](-.75,.04)[.3](-.5,.035)[1.2](-.1,.03)[.2](-1.4,.03)[1.9](-1.1,.03)[-.4](-.85,.025)[.5](-.55,.022)[1.8](-.15,.018)[.6](.2,.028)[1.5](.5,.02)[1.7](.75,.015)[.2](1.3,.03)[.8](1.55,.035)[-.5](1.7,.03)[-.7](1.85,.022)[-.6](.35,.015)[.9](.85,.03)[1.7](1.1,.028)[1.4](1.45,.02)[-.4](-1.3,-.018)[.6](-1,-.02)[-.3](-.7,-.022)[.4](-.2,-.02)[.2](.1,-.015)[.9](.4,-.012)[1.5](.65,-.02)[-.7](.9,-.015)[-.8](1.15,-.018)[.4](1.45,-.01)[.2](1.7,-.015)[1](.0,-.03)[1.5](.3,-.04)[.4](.6,-.035)[1.1](.85,-.033)[-.6](1.1,-.04)[.2](1.3,-.035)[1.3](1.5,-.03)[-.3](1.65,-.035)[1.6](.75,-.055)[1.9](1.05,-.05)[1.1](1.35,-.052)[.3](1.5,-.055)[-.2]
(-2.3,.012)[-.8](-2.1,.02)[-.7](-2,.008)[-.95](-1.85,.022)[-.8](-1.7,.003)[-.9](-1.55,.018)[-.7](-1.4,.0)[-.8](-1.2,.014)[-.8](-1,-.004)[-.9](-.8,.01)[-.7](-.6,-.008)[-.9](-.4,.006)[-.8](-.2,-.01)[-.95](.05,.004)[-.8](.25,-.012)[-.7](.45,-.002)[-.6](.6,-.006)[-.9](.8,-.015)[-.95](1.05,.01)[-.6](1.25,-.002)[-.85](1.45,.003)[-.7](1.65,.005)[-.9](1.8,.024)[-.95](1.95,.006)[-.8](1.6,.022)[-.8](-1.2,.04)[.9](-.9,.034)[1.3](-.6,.03)[.9](-.25,.012)[1.4](.15,.02)[.4](.6,.005)[1.1](1.2,.012)[1.6](1.55,-.005)[1.4](-.9,-.012)[1.7](-.45,-.012)[.7](.2,-.03)[.1](.95,-.045)[1.4](1.25,-.06)[.8](1.5,-.045)[.5]};
\addplot[medline] coordinates {(.09,-.1213)(.09,.1798)};
\addlegendentry{Median: 0.09}
\addplot[thrline] coordinates {(.99,-.1213)(.99,.1798)};
\addlegendentry{Threshold: 0.99}
\addplot[dots] coordinates {(1.69,.166)[.0]};
\end{axis}
\end{tikzpicture}
\end{document}
